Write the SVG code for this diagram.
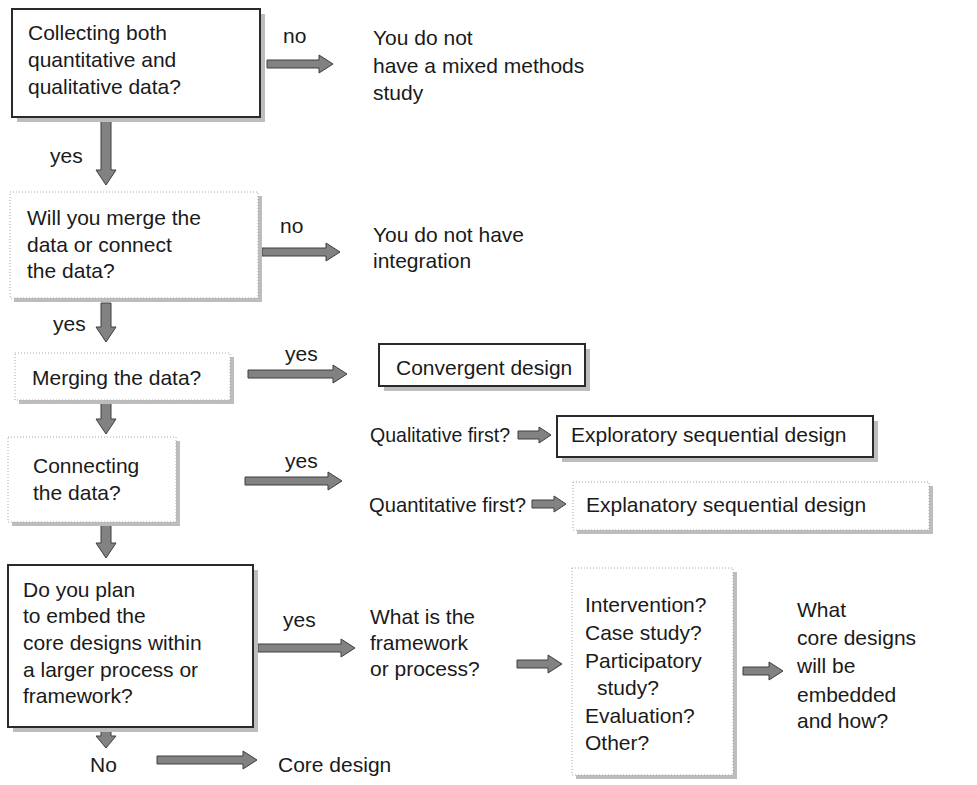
<svg xmlns="http://www.w3.org/2000/svg" width="977" height="785" viewBox="0 0 977 785">
<style>
  text { font-family: "Liberation Sans", Arial, sans-serif; font-size: 21px; fill: #1a1a1a; }
  .shadow { fill: #bdbdbd; }
  .dark { fill: #ffffff; stroke: #2a2a2a; stroke-width: 2; }
  .light { fill: #ffffff; stroke: #a8a8a8; stroke-width: 1; stroke-dasharray: 1 2; }
  .arrow { fill: #828282; stroke: #3e3e3e; stroke-width: 1; }
</style>
<rect width="977" height="785" fill="#ffffff"/>

<g id="connectors">
  <path class="arrow" d="M267,60 H319 V55 L333,64 L319,73 V68 H267 Z"/>
  <path class="arrow" d="M262,248 H326 V243 L340,252 L326,261 V256 H262 Z"/>
  <path class="arrow" d="M248,370 H333 V365 L347,374 L333,383 V378 H248 Z"/>
  <path class="arrow" d="M518,431 H539 V427 L551,435 L539,443 V439 H518 Z"/>
  <path class="arrow" d="M245,477 H328 V472 L342,481 L328,490 V485 H245 Z"/>
  <path class="arrow" d="M532,500 H554 V496 L566,504 L554,512 V508 H532 Z"/>
  <path class="arrow" d="M258,644 H341 V639 L355,648 L341,657 V652 H258 Z"/>
  <path class="arrow" d="M517,660 H548 V655 L562,664 L548,673 V668 H517 Z"/>
  <path class="arrow" d="M743,667 H769 V662 L783,671 L769,680 V675 H743 Z"/>
  <path class="arrow" d="M157,756 H243 V751 L257,760 L243,769 V764 H157 Z"/>
  <path class="arrow" d="M101,121 V170 H96 L106,185 L116,170 H111 V121 Z"/>
  <path class="arrow" d="M101,303 V327 H96 L106,342 L116,327 H111 V303 Z"/>
  <path class="arrow" d="M101,402 V419 H96 L106,434 L116,419 H111 V402 Z"/>
  <path class="arrow" d="M101,524 V543 H96 L106,558 L116,543 H111 V524 Z"/>
  <path class="arrow" d="M101,729 V736 H96 L106,748 L116,736 H111 V729 Z"/>
  <text x="283" y="43">no</text>
  <text x="280" y="233">no</text>
  <text x="50" y="163">yes</text>
  <text x="53" y="331">yes</text>
  <text x="285" y="361">yes</text>
  <text x="285" y="468">yes</text>
  <text x="283" y="627">yes</text>
  <text x="370" y="442" textLength="140" lengthAdjust="spacingAndGlyphs">Qualitative first?</text>
  <text x="369" y="512" textLength="157" lengthAdjust="spacingAndGlyphs">Quantitative first?</text>
  <text x="90" y="772">No</text>
</g>

<g id="n-collecting">
  <rect class="shadow" x="17" y="14" width="248" height="108"/>
  <rect class="dark" x="12" y="9" width="248" height="108"/>
  <text x="28" y="40">Collecting both</text>
  <text x="28" y="67">quantitative and</text>
  <text x="28" y="94">qualitative data?</text>
</g>

<g id="n-no-mixed">
  <text x="373" y="45">You do not</text>
  <text x="373" y="73">have a mixed methods</text>
  <text x="373" y="100">study</text>
</g>

<g id="n-merge-connect">
  <rect class="shadow" x="14" y="196" width="248" height="106"/>
  <rect class="light" x="10" y="192" width="248" height="106"/>
  <text x="27" y="225">Will you merge the</text>
  <text x="27" y="252">data or connect</text>
  <text x="27" y="278">the data?</text>
</g>

<g id="n-no-integration">
  <text x="373" y="242">You do not have</text>
  <text x="373" y="268">integration</text>
</g>

<g id="n-merging">
  <rect class="shadow" x="19" y="357" width="215" height="47"/>
  <rect class="light" x="15" y="353" width="215" height="47"/>
  <text x="32" y="385">Merging the data?</text>
</g>

<g id="n-convergent">
  <rect class="shadow" x="384" y="349" width="206" height="42"/>
  <rect class="dark" x="379" y="344" width="206" height="42"/>
  <text x="396" y="375">Convergent design</text>
</g>

<g id="n-connecting">
  <rect class="shadow" x="12" y="441" width="168" height="85"/>
  <rect class="light" x="8" y="437" width="168" height="85"/>
  <text x="33" y="473">Connecting</text>
  <text x="33" y="500">the data?</text>
</g>

<g id="n-exploratory">
  <rect class="shadow" x="562" y="421" width="316" height="41"/>
  <rect class="dark" x="557" y="416" width="316" height="41"/>
  <text x="571" y="442">Exploratory sequential design</text>
</g>

<g id="n-explanatory">
  <rect class="shadow" x="577" y="486" width="356" height="48"/>
  <rect class="light" x="573" y="482" width="356" height="48"/>
  <text x="586" y="512">Explanatory sequential design</text>
</g>

<g id="n-embed">
  <rect class="shadow" x="13" y="570" width="245" height="162"/>
  <rect class="dark" x="8" y="565" width="245" height="162"/>
  <text x="23" y="597">Do you plan</text>
  <text x="23" y="623">to embed the</text>
  <text x="23" y="650">core designs within</text>
  <text x="23" y="677">a larger process or</text>
  <text x="23" y="703">framework?</text>
</g>

<g id="n-framework">
  <text x="370" y="624">What is the</text>
  <text x="370" y="650">framework</text>
  <text x="370" y="676">or process?</text>
</g>

<g id="n-options">
  <rect class="shadow" x="576" y="572" width="161" height="207"/>
  <rect class="light" x="572" y="568" width="161" height="207"/>
  <text x="585" y="612">Intervention?</text>
  <text x="585" y="640">Case study?</text>
  <text x="585" y="668">Participatory</text>
  <text x="597" y="695">study?</text>
  <text x="585" y="723">Evaluation?</text>
  <text x="585" y="750">Other?</text>
</g>

<g id="n-what-core">
  <text x="797" y="617">What</text>
  <text x="797" y="645">core designs</text>
  <text x="797" y="673">will be</text>
  <text x="797" y="702">embedded</text>
  <text x="797" y="728">and how?</text>
</g>

<g id="n-core-design">
  <text x="278" y="772">Core design</text>
</g>
</svg>
